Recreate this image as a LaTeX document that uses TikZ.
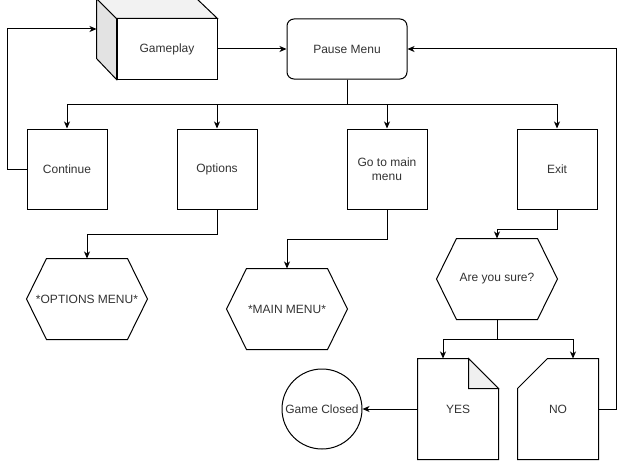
\documentclass[tikz,border=0pt]{standalone}
\usepackage{fontspec}
\setmainfont{Liberation Sans}
\usepackage{xcolor}
\usepackage{tikz}
\usetikzlibrary{arrows.meta}

% outline of a six-sided box round a rectangle node
\newcommand{\hexoutline}[1]{%
  \draw ([xshift=20pt]#1.north west) -- ([xshift=-20pt]#1.north east) -- (#1.east)
     -- ([xshift=-20pt]#1.south east) -- ([xshift=20pt]#1.south west) -- (#1.west) -- cycle;}

\begin{document}
\begin{tikzpicture}[
    x=1pt, y=-1pt,
    line width=1pt,
    every node/.style={font=\fontsize{12pt}{14pt}\selectfont, text=black!80},
    box/.style={rectangle, draw, minimum width=80pt, minimum height=80pt, align=center, fill=white},
    roundbox/.style={rectangle, draw, rounded corners=7pt, minimum width=120pt, minimum height=60pt},
    hexbox/.style={rectangle, minimum width=120pt, minimum height=80pt, inner sep=0pt},
    docbox/.style={rectangle, minimum width=80pt, minimum height=100pt, inner sep=0pt},
    endcircle/.style={circle, draw, minimum size=80pt, inner sep=0pt},
    arr/.style={-{Stealth[length=7pt, width=6pt, inset=2pt]}}
]
    \useasboundingbox (0,0) rectangle (623,460);

    % Gameplay (cube)
    \node[box, minimum width=100pt, minimum height=60pt] (gameplay) at (167,49) {Gameplay};
    \draw[fill=gray!22] (gameplay.north west) -- ++(-20,-20) -- ++(0,60) -- (gameplay.south west) -- cycle;
    \draw[fill=gray!10] (gameplay.north west) -- ++(-20,-20) -- ++(100,0) -- (gameplay.north east) -- cycle;
    \coordinate (gameback) at ([shift={(-20,-20)}]gameplay.west);

    % Pause menu and its choices
    \node[roundbox] (pause) at (347,49) {Pause Menu};
    \node[box] (continue) at (67,169) {Continue};
    \node[box] (options) at (217,169) {Options};
    \node[box] (mainbtn) at (387,169) {Go to main\\menu};
    \node[box] (exit) at (557,169) {Exit};

    % Menus
    \node[hexbox] (optmenu) at (87,299) {*OPTIONS MENU*};
    \hexoutline{optmenu}
    \node[hexbox] (mainmenu) at (287,309) {*MAIN MENU*};
    \hexoutline{mainmenu}
    \node[hexbox] (sure) at (497,279) {Are you sure?};
    \hexoutline{sure}

    % Answers
    \node[docbox] (yes) at (458,409) {YES};
    \draw (yes.south west) -- (yes.north west) -- ([xshift=-30pt]yes.north east)
       -- ([yshift=-30pt]yes.north east) -- (yes.south east) -- cycle;
    \draw[fill=gray!12] ([xshift=-30pt]yes.north east) -- ([xshift=-30pt,yshift=-30pt]yes.north east)
       -- ([yshift=-30pt]yes.north east) -- cycle;
    \node[docbox] (no) at (558,409) {NO};
    \draw (no.south west) -- ([yshift=-30pt]no.north west) -- ([xshift=30pt]no.north west)
       -- (no.north east) -- (no.south east) -- cycle;
    \node[endcircle] (closed) at (322,409) {Game Closed};

    % Connectors
    \draw[arr] (continue.west) -- ++(-19,0) |- (gameback);
    \draw[arr] (gameplay.east) -- (pause.west);
    \draw[arr] (pause.south) -- ++(0,25) -| (continue);
    \draw[arr] (pause.south) -- ++(0,25) -| (options);
    \draw[arr] (pause.south) -- ++(0,25) -| (mainbtn);
    \draw[arr] (pause.south) -- ++(0,25) -| (exit);
    \draw[arr] (options.south) -- ++(0,25) -| (optmenu);
    \draw[arr] (mainbtn.south) -- ++(0,30) -| (mainmenu);
    \draw[arr] (exit.south) -- ++(0,20) -| (sure);
    \draw[arr] (sure.south) -- ++(0,20) -| ([xshift=-15pt]yes.north);
    \draw[arr] (sure.south) -- ++(0,20) -| ([xshift=15pt]no.north);
    \draw[arr] (yes) -- (closed);
    \draw[arr] (no.east) -- ++(18,0) |- (pause.east);
\end{tikzpicture}
\end{document}
